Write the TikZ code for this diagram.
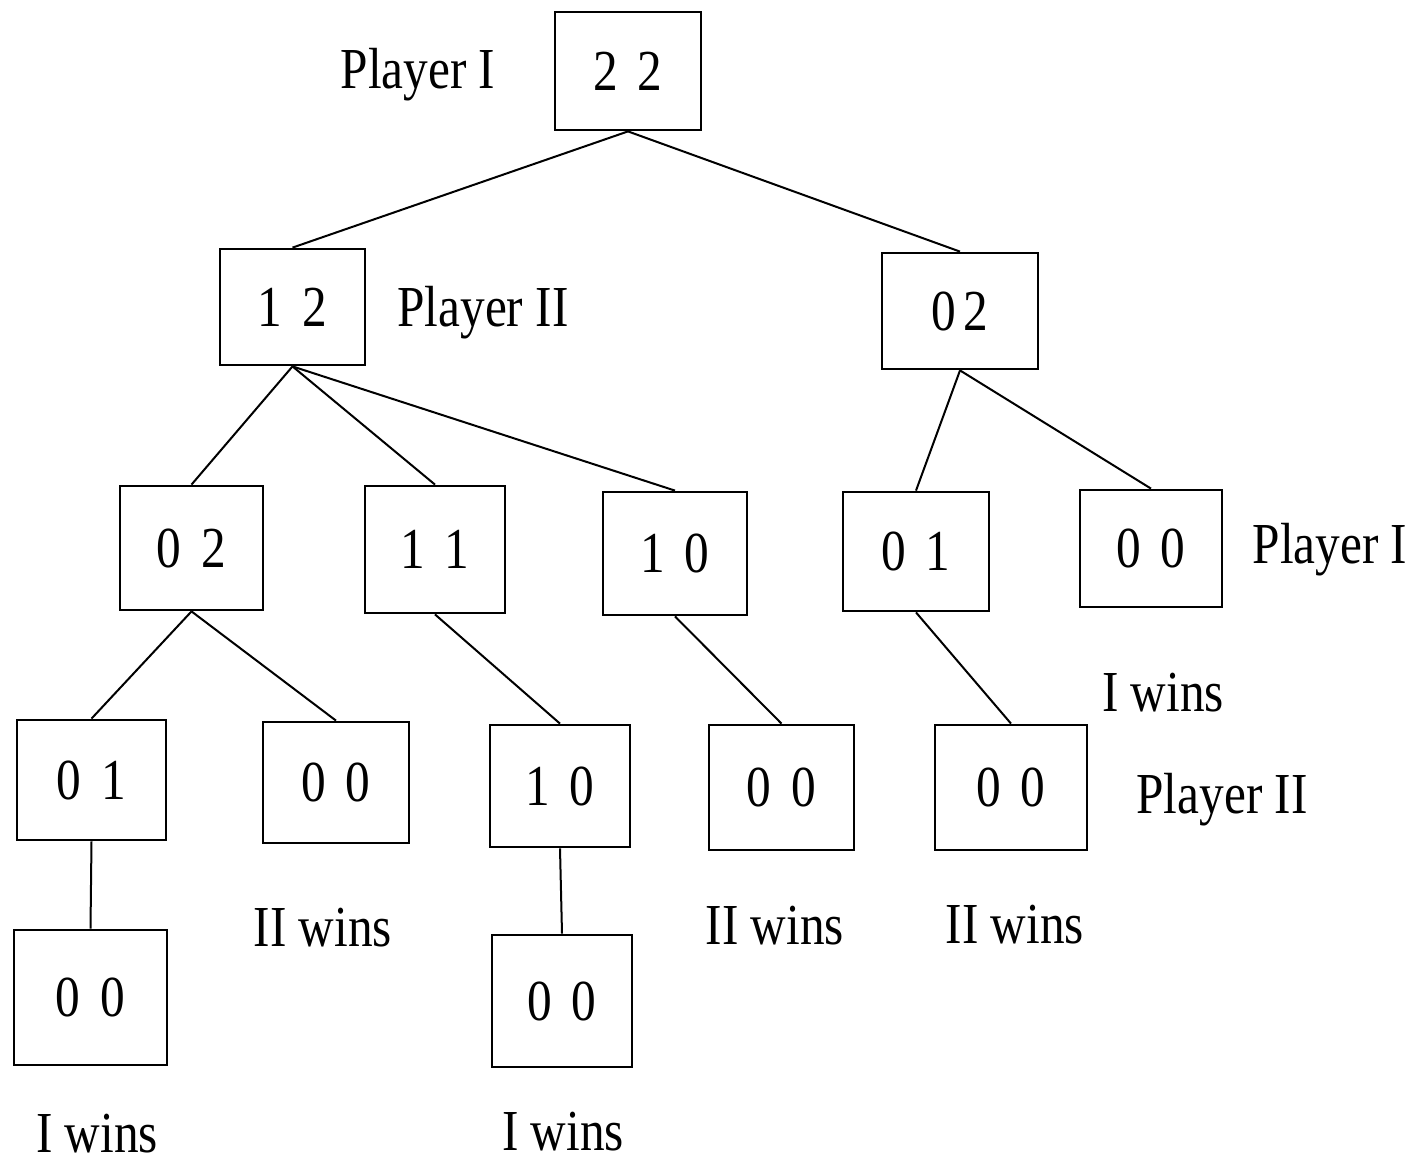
\documentclass[tikz,border=0pt]{standalone}
\usepackage{fontspec}
\setmainfont[FakeStretch=0.85]{Liberation Serif}
\newcommand\pr[2]{#1\hspace{10pt}#2}
\begin{document}
\begin{tikzpicture}[x=0.5pt,y=-0.5pt,
  font=\fontsize{29}{34}\selectfont,
  box/.style={draw,line width=1.4pt,inner sep=0pt},
  edge/.style={line width=1pt},
  lbl/.style={inner sep=0pt}]
\useasboundingbox (0,0) rectangle (1413,1163);
% level 1
\node[box,minimum width=73pt,minimum height=59pt] (r) at (628,71) {\pr22};
% level 2
\node[box,minimum width=72.5pt,minimum height=58pt] (a) at (292.5,307) {\pr12};
\node[box,minimum width=78pt,minimum height=58pt] (b) at (960,311) {0\hspace{4pt}2};
% level 3
\node[box,minimum width=71.5pt,minimum height=62pt] (a1) at (191.5,548) {\pr02};
\node[box,minimum width=70pt,minimum height=63.5pt] (a2) at (435,549.5) {\pr11};
\node[box,minimum width=72pt,minimum height=61.5pt] (a3) at (675,553.5) {\pr10};
\node[box,minimum width=73pt,minimum height=59.5pt] (b1) at (916,551.5) {\pr01};
\node[box,minimum width=71pt,minimum height=58.5pt] (b2) at (1151,548.5) {\pr00};
% level 4
\node[box,minimum width=74.5pt,minimum height=60pt] (c1) at (91.5,780) {\pr01};
\node[box,minimum width=73pt,minimum height=60.5pt] (c2) at (336,782.5) {\pr00};
\node[box,minimum width=70pt,minimum height=61pt] (c3) at (560,786) {\pr10};
\node[box,minimum width=72.5pt,minimum height=62.5pt] (c4) at (781.5,787.5) {\pr00};
\node[box,minimum width=76pt,minimum height=62.5pt] (c5) at (1011,787.5) {\pr00};
% level 5
\node[box,minimum width=76.5pt,minimum height=67.5pt] (d1) at (90.5,997.5) {\pr00};
\node[box,minimum width=70pt,minimum height=66pt] (d2) at (562,1001) {\pr00};
% edges
\draw[edge] (r.south) -- (a.north);
\draw[edge] (r.south) -- (b.north);
\draw[edge] (a.south) -- (a1.north);
\draw[edge] (a.south) -- (a2.north);
\draw[edge] (a.south) -- (a3.north);
\draw[edge] (b.south) -- (b1.north);
\draw[edge] (b.south) -- (b2.north);
\draw[edge] (a1.south) -- (c1.north);
\draw[edge] (a1.south) -- (c2.north);
\draw[edge] (a2.south) -- (c3.north);
\draw[edge] (a3.south) -- (c4.north);
\draw[edge] (b1.south) -- (c5.north);
\draw[edge] (c1.south) -- (d1.north);
\draw[edge] (c3.south) -- (d2.north);
% labels
\node[lbl] (l1) at (418,75) {Player I};
\node[lbl] (l2) at (483,313) {Player II};
\node[lbl] (l3) at (1330,550) {Player I};
\node[lbl] (l4) at (1163,693) {I wins};
\node[lbl] (l5) at (1222,800) {Player II};
\node[lbl] (l6) at (323,928) {II wins};
\node[lbl] (l7) at (775,926) {II wins};
\node[lbl] (l8) at (1015,925) {II wins};
\node[lbl] (l9) at (97,1134) {I wins};
\node[lbl] (l10) at (563,1132) {I wins};
\end{tikzpicture}
\end{document}
